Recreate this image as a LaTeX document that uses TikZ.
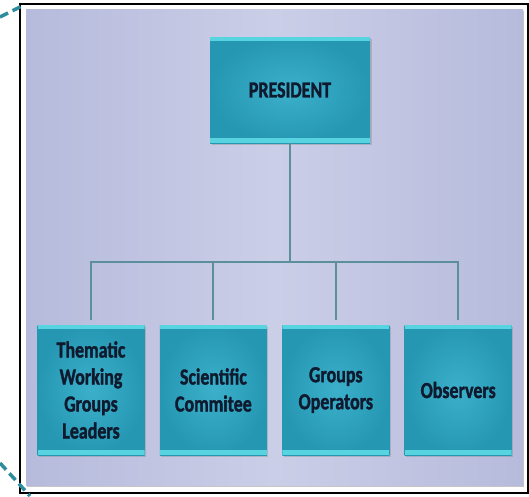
\documentclass[tikz,border=0pt]{standalone}
\usepackage{fontspec}
\setmainfont{Carlito}[FakeStretch=0.78,BoldFeatures={FakeBold=1.4}]
\usepackage{tikz}
\usetikzlibrary{positioning,calc,shadows}

\definecolor{bglight}{HTML}{CBCEE7}
\definecolor{bgdark}{HTML}{B6BBDC}
\definecolor{boxlight}{HTML}{3CB0CA}
\definecolor{boxdark}{HTML}{2597B3}
\definecolor{stripe}{HTML}{58D3E0}
\definecolor{linkcol}{HTML}{5B8F9C}
\definecolor{inkcol}{HTML}{0F1A2E}
\definecolor{dashcol}{HTML}{2E8C9C}

\tikzset{
  post/.style={rectangle,inner color=boxlight,outer color=boxdark,
    text=inkcol,align=center,
    font=\bfseries\fontsize{23}{27}\selectfont,
    drop shadow={opacity=0.35,shadow xshift=1.5pt,shadow yshift=-1.5pt},
    path picture={
      \fill[stripe] (path picture bounding box.north west) rectangle
        ([yshift=-4pt]path picture bounding box.north east);
      \fill[stripe] (path picture bounding box.south west) rectangle
        ([yshift=5pt]path picture bounding box.south east);
    }},
  link/.style={draw=linkcol,line width=2pt}
}

\begin{document}
\begin{tikzpicture}[x=1pt,y=-1pt,node distance=15pt]
  \useasboundingbox (0,0) rectangle (529,496);
  % frame and panel
  \draw[black,line width=1.4pt,fill=white] (20,4) rectangle (528,493);
  \fill[gray!45] (27,11) rectangle (524,487);
  \shade[left color=bgdark,right color=bgdark,middle color=bglight]
        (26,9) rectangle (523,485);
  \draw[dashcol,line width=3.5pt,dash pattern=on 9pt off 5pt] (0,17) -- (24,5);
  \draw[dashcol,line width=3.5pt,dash pattern=on 9pt off 5pt] (0,463) -- (30,496);

  \node[post,minimum width=160pt,minimum height=106pt] (pres) at (290,90) {PRESIDENT};

  \node[post,minimum width=107pt,minimum height=130pt] (tw) at (91,390)
       {Thematic\\Working\\Groups\\Leaders};
  \node[post,minimum width=107pt,minimum height=130pt] (sc) [right=of tw]
       {Scientific\\Commitee};
  \node[post,minimum width=107pt,minimum height=130pt] (go) [right=of sc]
       {Groups\\Operators};
  \node[post,minimum width=107pt,minimum height=130pt] (ob) [right=of go]
       {Observers};

  \coordinate (bus) at (pres.south |- 0,262);
  \draw[link] (pres) -- (bus);
  \foreach \n in {tw,sc,go,ob}
    \draw[link,shorten <=5pt] (\n.north) |- (bus);
\end{tikzpicture}
\end{document}
